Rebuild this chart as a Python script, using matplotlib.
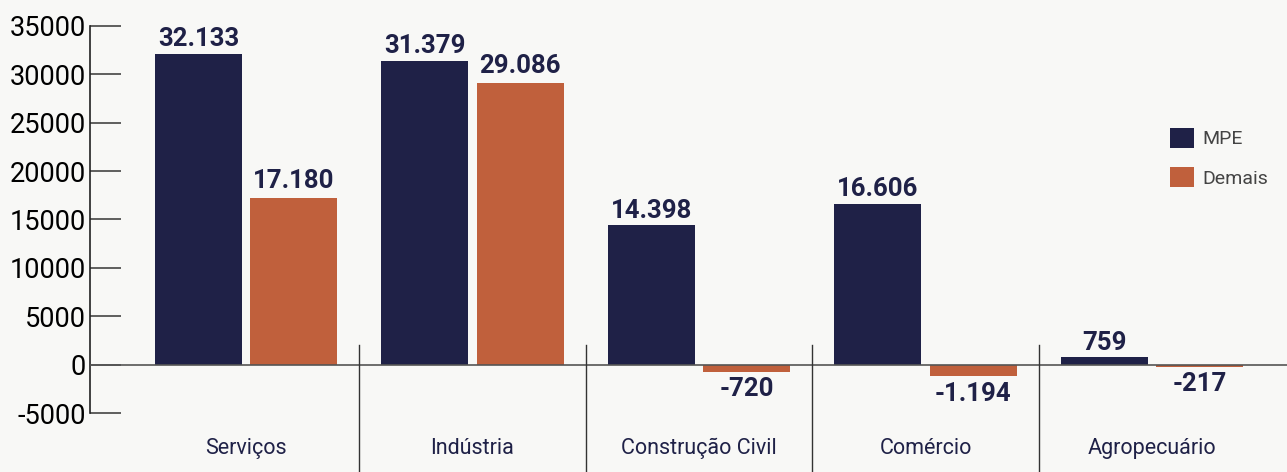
import numpy as np
import matplotlib.pyplot as plt

plt.rcParams['font.family'] = ['Roboto', 'DejaVu Sans']
plt.rcParams['axes.unicode_minus'] = False

setores = ['Serviços', 'Indústria', 'Construção Civil', 'Comércio', 'Agropecuário']
mpe = [32133, 31379, 14398, 16606, 759]
demais = [17180, 29086, -720, -1194, -217]

navy = '#1f2147'
laranja = '#c0603c'
fundo = '#f8f8f6'


def fmt(v):
    return f'{v:,}'.replace(',', '.')


fig = plt.figure(figsize=(12.87, 4.72), dpi=100, facecolor=fundo)
ax = fig.add_axes([90 / 1287, 59 / 472, 1 - 90 / 1287, (413 - 26) / 472])
ax.set_facecolor(fundo)

x = np.arange(len(setores))
w = 0.384
off = 0.21
b1 = ax.bar(x - off, mpe, w, color=navy, label='MPE', zorder=2)
b2 = ax.bar(x + off, demais, w, color=laranja, label='Demais', zorder=2)

ax.bar_label(b1, labels=[fmt(v) for v in mpe], padding=2,
             fontsize=18.5, fontweight='bold', color=navy)
ax.bar_label(b2, labels=[fmt(v) for v in demais], padding=4,
             fontsize=18.5, fontweight='bold', color=navy)

ax.axhline(0, color='#555555', lw=1.2, zorder=3)
for s in x[:-1] + 0.5:
    ax.plot([s, s], [2000, -14000], color='#333333', lw=1, clip_on=False, zorder=3)

ax.set_xlim(-0.689, 4.596)
ax.set_ylim(-5000, 35000)
ax.set_yticks(range(-5000, 35001, 5000))
ax.tick_params(axis='y', direction='in', length=22, width=1.2, color='#444444',
               labelsize=19.5, pad=3, labelcolor='black')
ax.set_xticks(x, setores)
ax.tick_params(axis='x', length=0, pad=18, labelsize=15.5, labelcolor=navy)

for side in ['top', 'right', 'bottom']:
    ax.spines[side].set_visible(False)
ax.spines['left'].set_color('#222222')
ax.spines['left'].set_linewidth(1.2)

leg = ax.legend(loc='upper left', bbox_to_anchor=(1152 / 1287, 1 - 110 / 472),
                bbox_transform=fig.transFigure, frameon=False, fontsize=14,
                handlelength=1.25, handleheight=1.25, labelspacing=0.95,
                handletextpad=0.45)
for t in leg.get_texts():
    t.set_color('#444444')

fig.savefig('out.png', dpi=100, facecolor=fundo)
